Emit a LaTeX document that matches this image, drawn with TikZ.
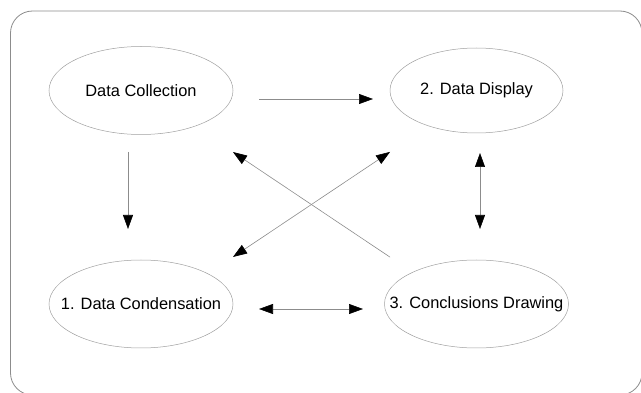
\documentclass[tikz,border=0pt]{standalone}
\usepackage{fontspec}
\setmainfont{Liberation Sans}
\usetikzlibrary{shapes.geometric,arrows.meta}

\begin{document}
\begin{tikzpicture}[x=1pt,y=-1pt,
		>={Triangle[length=14pt,width=10pt,black]},
		stage/.style={ellipse,draw=gray!75,line width=0.5pt,inner sep=0,
			minimum width=184pt,minimum height=88pt,
			font=\fontsize{16.4}{19}\selectfont},
		link/.style={draw=gray!90,line width=0.6pt}]
		\useasboundingbox (0,0) rectangle (641,393);
		\draw[gray!90,line width=0.8pt,rounded corners=22pt] (10.5,11) rectangle (642,395);
		\begin{scope}[nodes={stage}]
		\node (dc) at (141,90.5) {\makebox[0pt]{Data Collection}};
		\node[minimum width=173pt,minimum height=85pt] (dd) at (476.5,90.5) {\makebox[0pt]{2. Data Display}};
		\node (cn) at (141,304) {\makebox[0pt]{1. Data Condensation}};
		\node (cd) at (476.5,304) {\makebox[0pt]{3. Conclusions Drawing}};
		\end{scope}
		% straight links between the stages
		\draw[link,->,shorten <=118pt,shorten >=103.5pt] ([yshift=-8.5pt]dc.center) -- ([yshift=-8.5pt]dd.center);
		\draw[link,->,shorten <=61.5pt,shorten >=75pt] ([xshift=-13pt]dc.center) -- ([xshift=-13pt]cn.center);
		\draw[link,<->,shorten <=62.5pt,shorten >=75pt] ([xshift=3.5pt]dd.center) -- ([xshift=3.5pt]cd.center);
		\draw[link,<->,shorten <=118pt,shorten >=113.5pt] ([yshift=-5pt]cn.center) -- ([yshift=-5pt]cd.center);
		% crossing links
		\draw[link,->,shorten <=104pt,shorten >=110.7pt] ([yshift=-11pt]cd.center) -- (dc.center);
		\draw[link,<->,shorten <=110.7pt,shorten >=104pt] ([yshift=-14.5pt]cn.center) -- ([yshift=-3.6pt]dd.center);
\end{tikzpicture}
\end{document}
